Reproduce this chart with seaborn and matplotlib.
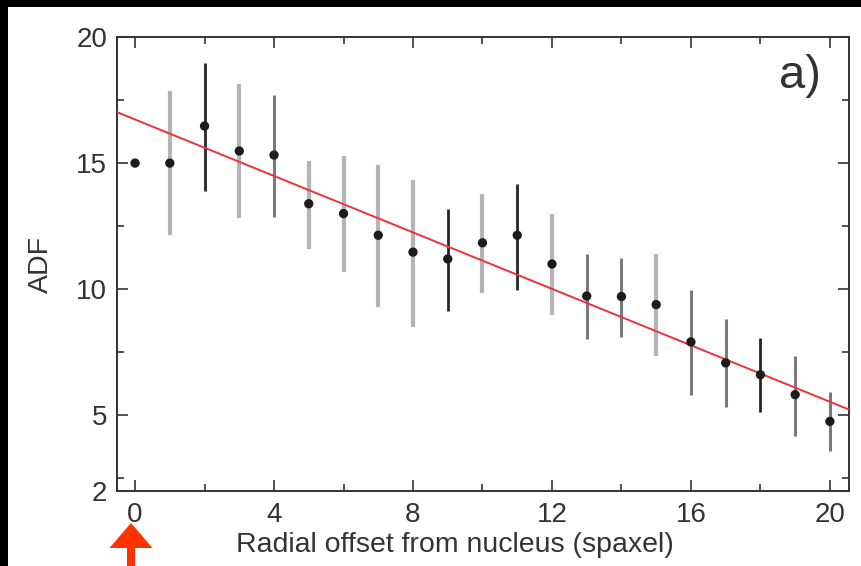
import numpy as np
import pandas as pd
import matplotlib
matplotlib.use("Agg")
import matplotlib.pyplot as plt
from matplotlib.patches import Rectangle, FancyArrow
import seaborn as sns

# ---- data ----
offset = [0, 1, 2, 3, 4, 5, 6, 7, 8, 9, 10, 11, 12, 13, 14, 15, 16, 17, 18, 19, 20]
adf = [15.0, 15.0, 16.47, 15.48, 15.32, 13.39, 13.0, 12.14, 11.47, 11.2,
       11.84, 12.14, 11.0, 9.73, 9.71, 9.39, 7.91, 7.08, 6.61, 5.82, 4.76]
err_hi = [15.0, 17.85, 18.98, 18.12, 17.7, 15.08, 15.28, 14.92, 14.33, 13.19,
          13.76, 14.19, 12.99, 11.38, 11.24, 11.38, 9.95, 8.8, 8.07, 7.37, 5.91]
err_lo = [15.0, 12.15, 13.9, 12.83, 12.86, 11.6, 10.69, 9.3, 8.5, 9.15,
          9.85, 9.96, 8.99, 8.04, 8.11, 7.37, 5.82, 5.33, 5.12, 4.19, 3.57]
fit_x = [-0.52, 20.55]
fit_y = [17.02, 5.23]
x_ticks = [0, 4, 8, 12, 16, 20]
y_ticks = [2, 5, 10, 15, 20]
panel_label = "a)"

# style of each error bar (none / light / medium / dark)
err_shade = ["none", "light", "dark", "light", "medium", "light", "light", "light",
             "light", "dark", "light", "dark", "light", "medium", "medium", "light",
             "medium", "medium", "dark", "medium", "medium"]
shade_style = {"light": ("#b4b4b4", 3.0), "medium": ("#7a7a7a", 2.2),
               "dark": ("#262626", 2.0)}

df = pd.DataFrame({"offset": offset, "adf": adf, "hi": err_hi, "lo": err_lo,
                   "shade": err_shade})
fit_df = pd.DataFrame({"x": fit_x, "y": fit_y})

sns.set_theme(style="white")
plt.rcParams["font.family"] = ["Liberation Sans", "DejaVu Sans"]

W, H = 861, 566
fig = plt.figure(figsize=(W / 100, H / 100), dpi=100, facecolor="white")
ax = fig.add_axes([117 / W, 1 - 491 / H, (849 - 117) / W, (491 - 37) / H])
ax.set_facecolor("white")

# error bars
for shade, grp in df.groupby("shade"):
    if shade == "none":
        continue
    col, lw = shade_style[shade]
    ax.vlines(grp["offset"], grp["lo"], grp["hi"], colors=col, linewidth=lw, zorder=2)

# fit line
sns.lineplot(data=fit_df, x="x", y="y", ax=ax, color="#f0303a", linewidth=1.4, zorder=3)

# points
sns.scatterplot(data=df, x="offset", y="adf", ax=ax, color="#1c1c1c", s=45,
                edgecolor="none", zorder=4)

ax.set_xlim(-0.52, 20.55)
ax.set_ylim(2, 20)
ax.set_xticks(x_ticks)
ax.set_yticks(y_ticks)
ax.set_xticks(np.arange(2, 20, 4), minor=True)
ax.set_yticks([2.5, 7.5, 12.5, 17.5], minor=True)
ax.tick_params(which="both", direction="in", top=True, right=True, bottom=True, left=True,
               color="#333333", width=1.2)
ax.tick_params(which="major", length=8, labelsize=20, labelcolor="#333333")
ax.tick_params(axis="x", which="major", pad=8)
ax.tick_params(axis="y", which="major", pad=7)
ax.tick_params(which="minor", length=5)
for sp in ax.spines.values():
    sp.set_color("#333333")
    sp.set_linewidth(1.4)
    sp.set_visible(True)

ax.set_xlabel("Radial offset from nucleus (spaxel)", fontsize=20.5, color="#333333")
ax.xaxis.set_label_coords(0.462, -0.090)
ax.set_ylabel("ADF", fontsize=20.5, color="#333333", labelpad=16)

ax.text(0.962, 0.962, panel_label, transform=ax.transAxes, ha="right", va="top",
        fontsize=34, color="#333333")

# black border on top and left
fig.add_artist(Rectangle((0, 1 - 7 / H), 1, 7 / H, transform=fig.transFigure,
                         facecolor="black", edgecolor="none"))
fig.add_artist(Rectangle((0, 0), 8 / W, 1, transform=fig.transFigure,
                         facecolor="black", edgecolor="none"))

# red arrow pointing at the nucleus
fig.add_artist(FancyArrow(131 / W, 0, 0, (566 - 523) / H, width=8 / W,
                          head_width=43 / W, head_length=25 / H,
                          length_includes_head=True, transform=fig.transFigure,
                          facecolor="#ff3300", edgecolor="none"))

fig.savefig("out.png", dpi=100, facecolor="white")
